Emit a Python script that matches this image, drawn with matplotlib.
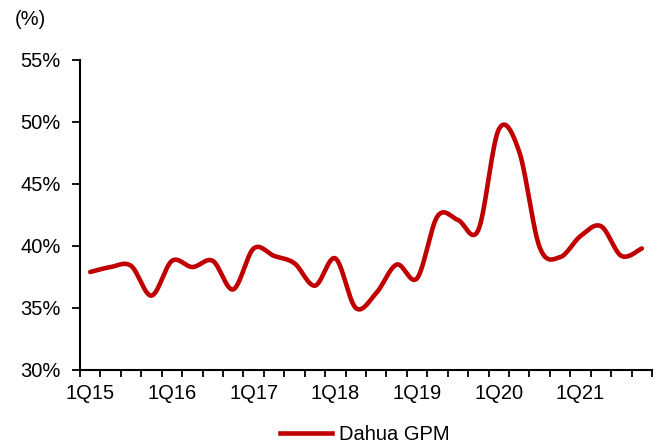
import numpy as np
import matplotlib
matplotlib.use("Agg")
import matplotlib.pyplot as plt
from matplotlib.lines import Line2D
from matplotlib.ticker import FixedLocator, FuncFormatter

plt.rcParams['font.family'] = ['Liberation Sans', 'DejaVu Sans']

# quarterly gross profit margin, 1Q15 .. 4Q21
quarters = [f"{q}Q{y}" for y in range(15, 22) for q in range(1, 5)]
gpm = [37.9, 38.3, 38.4, 36.0, 38.8, 38.3, 38.8, 36.5,
       39.8, 39.2, 38.6, 36.8, 39.0, 35.0, 36.2, 38.5,
       37.4, 42.4, 42.1, 41.3, 49.4, 47.6, 39.9, 39.1,
       40.8, 41.6, 39.2, 39.8]
tick_labels = [q if q.startswith("1Q") else "" for q in quarters]

red = "#C00000"
fs = 14.5


def smooth(x, y, n=30):
    # Excel-style smoothed line: cubic bezier through every point
    x = np.asarray(x, float)
    y = np.asarray(y, float)
    px = np.concatenate([[x[0]], x, [x[-1]]])
    py = np.concatenate([[y[0]], y, [y[-1]]])
    xs, ys = [], []
    t = np.linspace(0, 1, n)
    for i in range(len(x) - 1):
        p0 = np.array([px[i + 1], py[i + 1]])
        p3 = np.array([px[i + 2], py[i + 2]])
        p1 = p0 + (p3 - np.array([px[i], py[i]])) / 6
        p2 = p3 - (np.array([px[i + 3], py[i + 3]]) - p0) / 6
        b = ((1 - t) ** 3)[:, None] * p0 + (3 * (1 - t) ** 2 * t)[:, None] * p1 \
            + (3 * (1 - t) * t ** 2)[:, None] * p2 + (t ** 3)[:, None] * p3
        xs.extend(b[:, 0])
        ys.extend(b[:, 1])
    return xs, ys


fig = plt.figure(figsize=(6.66, 4.44), dpi=100)
ax = fig.add_axes([0.1201, 0.1667, 0.8589, 0.6982])

sx, sy = smooth(range(len(gpm)), gpm)
ax.plot(sx, sy, color=red, lw=3.3, solid_capstyle="round", zorder=3)

ax.set_xlim(-0.5, len(gpm) - 0.5)
ax.set_ylim(30, 55)
ax.set_yticks(range(30, 56, 5))
ax.yaxis.set_major_formatter(FuncFormatter(lambda v, p: f"{v:.0f}%"))

ax.set_xticks(range(len(gpm)))
ax.set_xticklabels(tick_labels)
ax.xaxis.set_minor_locator(FixedLocator(np.arange(-0.5, len(gpm), 1.0)))
ax.tick_params(axis="x", which="major", length=0, pad=10, labelsize=fs)
ax.tick_params(axis="x", which="minor", length=5, width=1.3, direction="out")
ax.tick_params(axis="y", length=6, width=1.3, direction="out", pad=8, labelsize=fs)

for s in ("top", "right"):
    ax.spines[s].set_visible(False)
for s in ("left", "bottom"):
    ax.spines[s].set_linewidth(1.5)

fig.text(0.022, 0.955, "(%)", fontsize=fs, va="center")

handle = Line2D([], [], color=red, lw=3.3)
fig.legend([handle], ["Dahua GPM"], loc="lower center", bbox_to_anchor=(0.548, -0.04),
           frameon=False, fontsize=fs, handlelength=2.6, handletextpad=0.35)

fig.savefig("out.png", dpi=100)
